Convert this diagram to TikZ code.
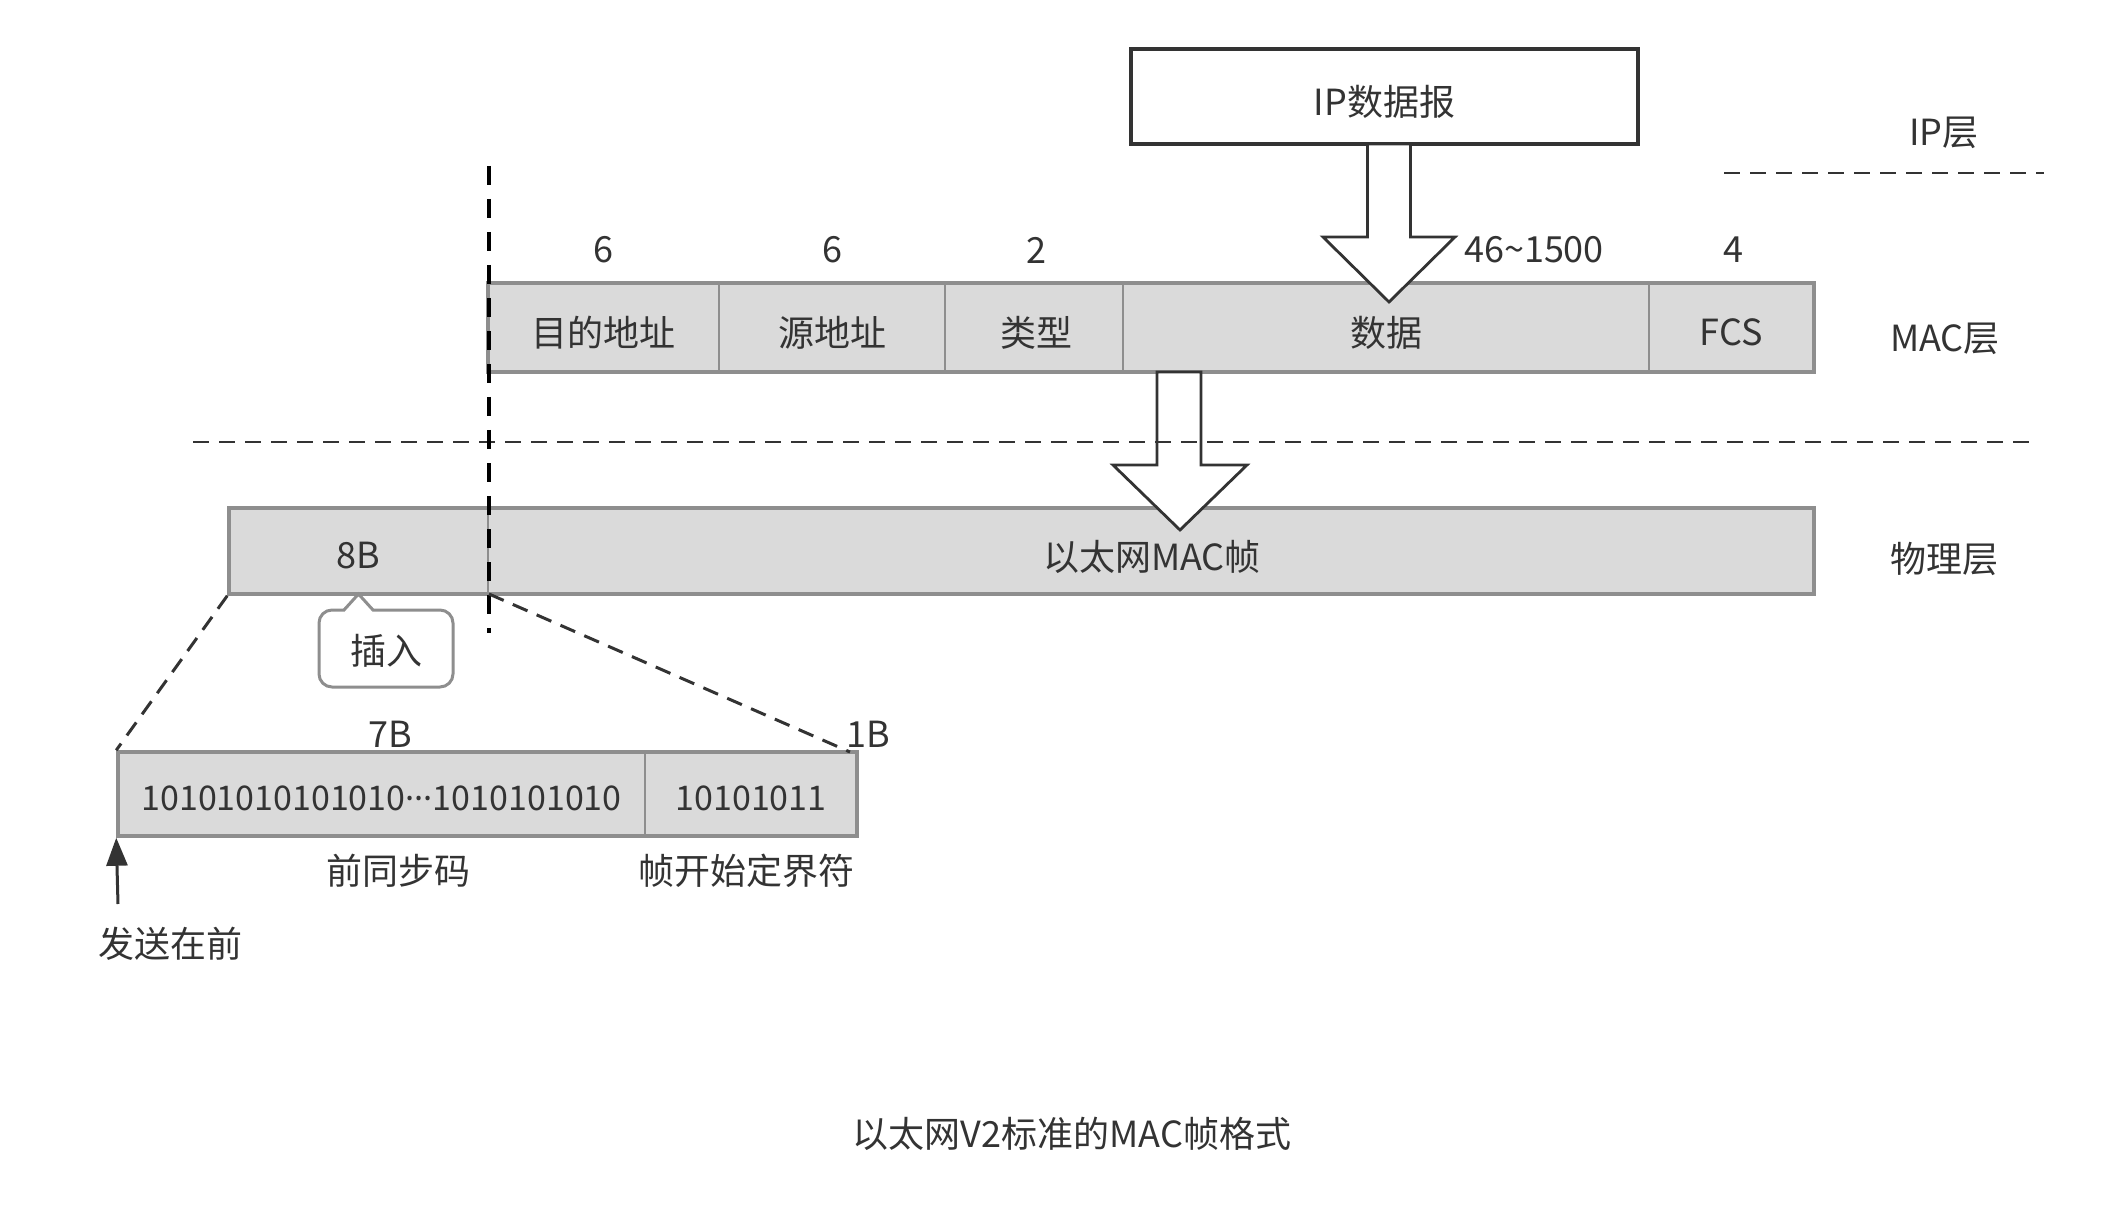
\documentclass[tikz,border=0pt]{standalone}
\usepackage{fontspec}
\setmainfont{Noto Sans CJK SC}
\newfontfamily\dotfont{Noto Sans}
\usetikzlibrary{arrows.meta}
\definecolor{boxfill}{HTML}{DADADA}
\definecolor{boxline}{HTML}{8E8E8E}
\definecolor{txt}{HTML}{333333}
\definecolor{dark}{HTML}{333333}
\tikzset{
  lbl/.style={text=txt, font=\fontsize{18pt}{22pt}\selectfont, inner sep=0pt},
  graybox/.style={draw=boxline, fill=boxfill, line width=1.75pt, inner sep=0pt},
  divider/.style={draw=boxline, line width=1pt},
  ipbox/.style={draw=dark, fill=white, line width=2pt, inner sep=0pt},
  fatarrow/.style={draw=dark, fill=white, line width=1.4pt, line join=miter},
  layerline/.style={draw=dark, line width=1pt, dash pattern=on 8pt off 5pt},
  cutline/.style={draw=black, line width=2pt, dash pattern=on 9.5pt off 7pt},
  zoomline/.style={draw=dark, line width=1.5pt, dash pattern=on 8pt off 5pt},
  calloutbox/.style={draw=boxline, fill=white, line width=1.5pt, rounded corners=6.5pt, inner sep=0pt},
  sendarrow/.style={draw=dark, line width=1.5pt, -{Triangle[length=14pt,width=10.5pt]}}
}
\begin{document}
\begin{tikzpicture}[x=0.5pt,y=-0.5pt]
\useasboundingbox (0,0) rectangle (2114,1208);

% ---- boxes ----
\node[ipbox, minimum width=253.5pt, minimum height=47.5pt] (ip) at (1384.5,96.5) {};
\node[graybox, minimum width=663pt, minimum height=44.5pt] (mac) at (1151,327.5) {};
\node[graybox, minimum width=792.5pt, minimum height=43pt] (phys) at (1021.5,551) {};
\node[graybox, minimum width=369.5pt, minimum height=42pt] (pre) at (487.5,794) {};

% dividers
\draw[divider] (719,283) -- (719,372);
\draw[divider] (945,283) -- (945,372);
\draw[divider] (1123,283) -- (1123,372);
\draw[divider] (1649,283) -- (1649,372);
\draw[divider] (488,508) -- (488,594);
\draw[divider] (645,752) -- (645,836);

% ---- callout ----
\node[calloutbox, minimum width=67pt, minimum height=38.5pt] (ins) at (386,648.5) {};
\fill[white] (345,610) -- (358.5,594) -- (372,610) -- (372,612) -- (345,612) -- cycle;
\draw[draw=boxline, line width=1.5pt, line join=miter] (344,610) -- (358.5,594) -- (373,610);

% ---- fat arrows ----
\draw[fatarrow] (1367.5,144) -- (1367.5,237) -- (1323,237) -- (1389,302) -- (1455,237) -- (1410.5,237) -- (1410.5,144) -- cycle;
\draw[fatarrow] (1157,372) -- (1157,465) -- (1113,465) -- (1180,530) -- (1247,465) -- (1201,465) -- (1201,372) -- cycle;

% ---- dashed lines ----
\coordinate (lyA) at (193,442);
\coordinate (lyB) at (2031,442);
\coordinate (lyC) at (1724,173);
\coordinate (lyD) at (2044,173);
\draw[layerline] (lyA) -- (lyB);
\draw[layerline] (lyC) -- (lyD);
\coordinate (cutTop) at (489,166);
\coordinate (cutBot) at (489,633);
\draw[cutline] (cutTop) -- (cutBot);
\coordinate (physDiv) at (489,594);
\coordinate (preNE) at (850,752);
\draw[zoomline] (phys.south west) -- (pre.north west);
\draw[zoomline] (physDiv) -- (preNE);

% ---- send arrow ----
\coordinate (sendStart) at (118,904);
\draw[sendarrow] (sendStart) -- (pre.south west);

% ---- texts ----
\node[lbl] (iptxt) at (1384.5,102) {IP数据报};
\node[lbl] (n6a) at (603,250) {6};
\node[lbl] (n6b) at (832,250) {6};
\node[lbl] (n2) at (1036,250) {2};
\node[lbl] (n46) at (1534,250) {46\textasciitilde1500};
\node[lbl] (n4) at (1733,250) {4};
\node[lbl] (f1) at (603,333) {目的地址};
\node[lbl] (f2) at (832,333) {源地址};
\node[lbl] (f3) at (1036,333) {类型};
\node[lbl] (f4) at (1386,333) {数据};
\node[lbl] (f5) at (1731,332) {FCS};
\node[lbl] (p1) at (358,556) {8B};
\node[lbl] (p2) at (1152,557) {以太网MAC帧};
\node[lbl] (instxt) at (386,651) {插入};
\node[lbl] (n7b) at (390,734) {7B};
\node[lbl] (n1b) at (868,734) {1B};
\node[lbl, font=\fontsize{17pt}{21pt}\selectfont] (b1) at (381.5,798) {10101010101010{\dotfont···}1010101010};
\node[lbl, font=\fontsize{17pt}{21pt}\selectfont] (b2) at (751,798) {10101011};
\node[lbl] (c1) at (398,871) {前同步码};
\node[lbl] (c2) at (746,871) {帧开始定界符};
\node[lbl] (send) at (170,944) {发送在前};
\node[lbl] (lip) at (1944,133) {IP层};
\node[lbl] (lmac) at (1945,339) {MAC层};
\node[lbl] (lphy) at (1944,559) {物理层};
\node[lbl] (title) at (1072,1134) {以太网V2标准的MAC帧格式};
\end{tikzpicture}
\end{document}
